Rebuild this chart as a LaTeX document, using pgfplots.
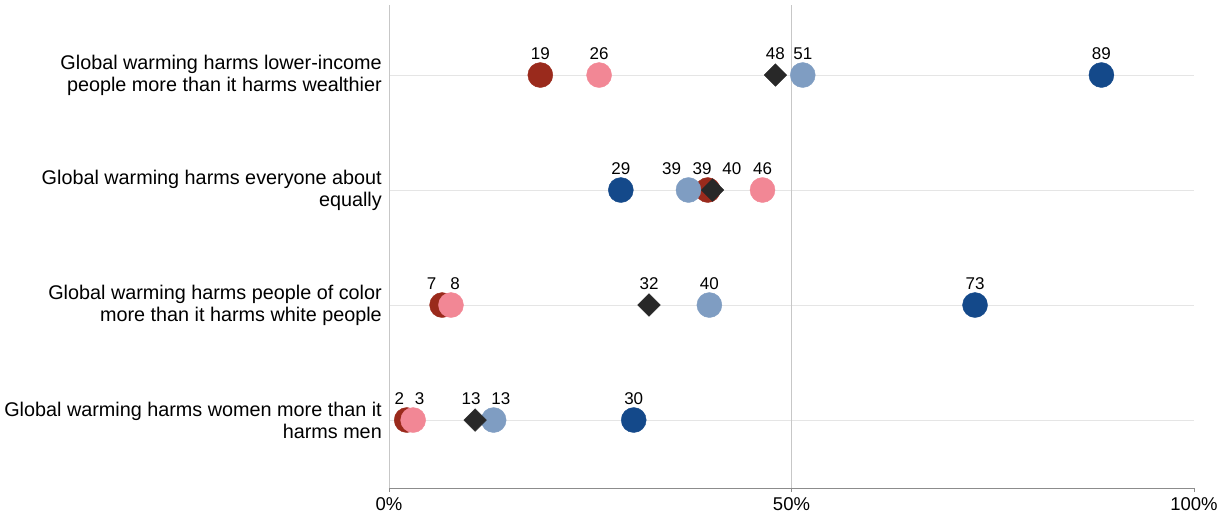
\documentclass[border=0pt]{standalone}
\usepackage{pgfplots}
\pgfplotsset{compat=1.18}
\usepackage{fontspec}
\setmainfont{Liberation Sans}
\definecolor{cDR}{HTML}{9A2A1C}
\definecolor{cPK}{HTML}{F28795}
\definecolor{cLB}{HTML}{7F9DC2}
\definecolor{cDB}{HTML}{14498A}
\definecolor{cDM}{HTML}{282828}
\begin{document}
\begin{tikzpicture}
\begin{axis}[
  scale only axis,
  width=805pt, height=483pt,
  xmin=0, xmax=100,
  ymin=0.409, ymax=4.609,
  axis x line=bottom, axis y line=left,
  axis line style={-},
  x axis line style={draw=black!45},
  y axis line style={draw=black!22},
  xtick={0,50,100},
  xticklabels={0\%,50\%,100\%},
  x tick label style={font=\fontsize{18.5}{20}\selectfont, yshift=-2pt},
  xtick style={draw=black!45, line width=0.8pt},
  major tick length=4pt,
  tick align=outside,
  ytick={1,2,3,4},
  yticklabels={{Global warming harms women more than it\\harms men},
               {Global warming harms people of color\\more than it harms white people},
               {Global warming harms everyone about\\equally},
               {Global warming harms lower-income\\people more than it harms wealthier}},
  y tick label style={align=right, font=\fontsize{19.8}{22}\selectfont, inner sep=0pt, xshift=-3pt},
  ytick style={draw=none},
  ymajorgrids,
  major grid style={draw=black!10, line width=0.8pt},
  clip=false,
]
\draw[black!22, line width=0.8pt] (axis cs:50,0.409) -- (axis cs:50,4.609);
\addplot[only marks, mark=*, mark size=12.5pt, color=cDR, mark options={draw=cDR, fill=cDR}]
  coordinates {(18.8,4) (39.6,3) (6.6,2) (2.2,1)};
\addplot[only marks, mark=*, mark size=12.5pt, color=cPK, mark options={draw=cPK, fill=cPK}]
  coordinates {(26.1,4) (46.4,3) (7.7,2) (3.0,1)};
\addplot[only marks, mark=*, mark size=12.5pt, color=cLB, mark options={draw=cLB, fill=cLB}]
  coordinates {(51.4,4) (37.2,3) (39.8,2) (13.0,1)};
\addplot[only marks, mark=*, mark size=12.5pt, color=cDB, mark options={draw=cDB, fill=cDB}]
  coordinates {(88.5,4) (28.8,3) (72.8,2) (30.4,1)};
\addplot[only marks, mark=square*, mark size=8pt, color=cDM, mark options={draw=cDM, fill=cDM, rotate=45}]
  coordinates {(48.0,4) (40.2,3) (32.3,2) (10.7,1)};
% value labels
\begin{scope}[every node/.style={anchor=base, font=\fontsize{17}{18}\selectfont, yshift=16pt, inner sep=0pt}]
\node at (axis cs:18.8,4) {19};
\node at (axis cs:26.1,4) {26};
\node at (axis cs:48.0,4) {48};
\node at (axis cs:51.4,4) {51};
\node at (axis cs:88.5,4) {89};
\node at (axis cs:28.8,3) {29};
\node at (axis cs:35.1,3) {39};
\node at (axis cs:38.9,3) {39};
\node at (axis cs:42.6,3) {40};
\node at (axis cs:46.4,3) {46};
\node at (axis cs:5.3,2) {7};
\node at (axis cs:8.2,2) {8};
\node at (axis cs:32.3,2) {32};
\node at (axis cs:39.8,2) {40};
\node at (axis cs:72.8,2) {73};
\node at (axis cs:1.3,1) {2};
\node at (axis cs:3.8,1) {3};
\node at (axis cs:10.2,1) {13};
\node at (axis cs:13.9,1) {13};
\node at (axis cs:30.4,1) {30};
\end{scope}
\end{axis}
\path[use as bounding box] ([xshift=-389pt,yshift=-34pt]current axis.south west) rectangle ([xshift=28pt,yshift=5pt]current axis.north east);
\end{tikzpicture}
\end{document}
